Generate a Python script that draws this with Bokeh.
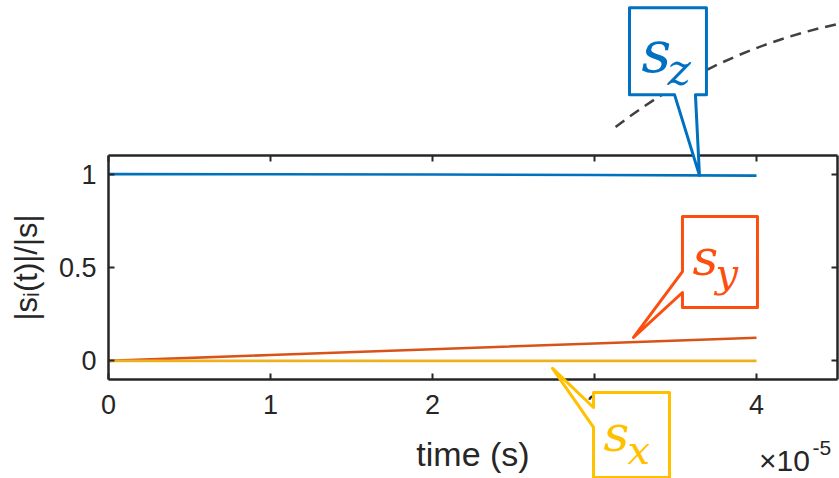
import numpy as np
from bokeh.plotting import figure
from bokeh.models import (LinearAxis, FixedTicker, Label, PolyAnnotation, Arrow,
                          ColumnDataSource, Range1d)
from bokeh.embed import file_html
from bokeh.resources import INLINE

# ---------------- data ----------------
time_s = [0.0, 1e-5, 2e-5, 3e-5, 4e-5]
s_z = [1.0, 0.9995, 0.998, 0.9957, 0.9923]
s_y = [0.0, 0.031, 0.062, 0.093, 0.124]
s_x = [0.0, 0.0, 0.0, 0.0, 0.0]

x_ticks = [0, 1, 2, 3, 4]
x_tick_labels = ["0", "1", "2", "3", "4"]
y_ticks = [0, 0.5, 1]
y_tick_labels = ["0", "0.5", "1"]
x_limits = (0, 4.5)
y_limits = (-0.1, 1.1)
x_label = "time (s)"
y_label = "|sᵢ(t)|/|s|"
exp_base = "×10"
exp_power = "-5"
x_scale = 1e5

callout_names = ["z", "y", "x"]

# ---------------- layout / styles ----------------
W, H = 839, 478
AX_L, AX_R, AX_T, AX_B = 108, 837, 155, 379      # axes box in pixels
px_x = (AX_R - AX_L) / (x_limits[1] - x_limits[0])
px_y = (AX_B - AX_T) / (y_limits[1] - y_limits[0])
xr = Range1d(x_limits[0] - AX_L / px_x, x_limits[1] + (W - AX_R) / px_x)
yr = Range1d(y_limits[0] - (H - AX_B) / px_y, y_limits[1] + AX_T / px_y)

AX = "#262626"
C_BLUE, C_ORANGE, C_YELLOW = "#0072BD", "#D95319", "#EDB120"
K_BLUE, K_ORANGE, K_YELLOW = "#0070C0", "#FC4E0F", "#FFC000"
TICK_FONT = "Liberation Sans"
MATH_FONT = "DejaVu Serif"

p = figure(width=W, height=H, x_range=xr, y_range=yr,
           output_backend="svg", toolbar_location=None,
           min_border=0, min_border_left=0, min_border_right=0,
           min_border_top=0, min_border_bottom=0)
p.background_fill_color = "white"
p.border_fill_color = "white"
p.outline_line_color = None
p.grid.visible = False
p.xaxis.visible = False
p.yaxis.visible = False

def make_axis(loc, fixed, bounds, ticks, labels):
    ax = LinearAxis(ticker=FixedTicker(ticks=ticks), fixed_location=fixed, bounds=bounds)
    ax.axis_line_color = AX
    ax.axis_line_width = 2.5
    ax.major_tick_line_color = AX
    ax.major_tick_line_width = 2
    ax.major_tick_in = 6
    ax.major_tick_out = 0
    ax.minor_tick_line_color = None
    ax.major_label_text_font = TICK_FONT
    ax.major_label_text_color = AX
    if labels is None:
        ax.major_label_text_alpha = 0
        ax.major_label_text_font_size = "1px"
    else:
        ax.major_label_overrides = {t: l for t, l in zip(ticks, labels)}
        ax.major_label_text_font_size = "27px"
    ax.axis_label_text_font = TICK_FONT
    ax.axis_label_text_font_style = "normal"
    ax.axis_label_text_color = AX
    p.add_layout(ax, loc)
    return ax

xax = make_axis("below", y_limits[0], x_limits, x_ticks, x_tick_labels)
yax = make_axis("left", x_limits[0], y_limits, y_ticks, y_tick_labels)
make_axis("above", y_limits[1], x_limits, x_ticks, None)
make_axis("right", x_limits[1], y_limits, y_ticks, None)
xax.major_label_standoff = 15
yax.major_label_standoff = 12
xax.axis_label = x_label
yax.axis_label = y_label
xax.axis_label_text_font_size = "34px"
yax.axis_label_text_font_size = "31px"
xax.axis_label_standoff = 18
yax.axis_label_standoff = 12

# ---------------- lines ----------------
tx = np.array(time_s) * x_scale
p.line(tx, s_z, line_color=C_BLUE, line_width=2.6)
p.line(tx, s_y, line_color=C_ORANGE, line_width=2.6)
p.line(tx, s_x, line_color=C_YELLOW, line_width=2.6)

# ---------------- dashed arc (decoration) ----------------
arc_cx, arc_cy, arc_r = 5.21, -1.083, 551.0   # centre (data), radius (px)
a0, a1 = np.deg2rad(127.7), np.deg2rad(97.0)
dash, gap = 11.0, 7.0
segs = dict(x0=[], y0=[], x1=[], y1=[])
s = 0.0
total = (a0 - a1) * arc_r
while s < total:
    e = min(s + dash, total)
    for key, ang in (("0", a0 - s / arc_r), ("1", a0 - e / arc_r)):
        segs["x" + key].append(arc_cx + arc_r * np.cos(ang) / px_x)
        segs["y" + key].append(arc_cy + arc_r * np.sin(ang) / px_y)
    s += dash + gap
p.add_layout(Arrow(end=None, x_start="x0", y_start="y0", x_end="x1", y_end="y1",
                   source=ColumnDataSource(segs), line_color="#404040", line_width=2.5))

# ---------------- callouts ----------------
def callout(xs, ys, color):
    p.add_layout(PolyAnnotation(xs=xs, ys=ys, fill_color="white", fill_alpha=1.0,
                                line_color=color, line_alpha=1.0, line_width=3,
                                line_join="round"))

tz = 3.648
tz_y = float(np.interp(tz, tx, s_z))
callout([3.216, 3.691, 3.691, 3.623, tz, 3.494, 3.216],
        [1.892, 1.892, 1.426, 1.426, tz_y, 1.426, 1.426], K_BLUE)

ty = 3.241
ty_y = float(np.interp(ty, tx, s_y)) + 0.025
callout([3.543, 4.006, 4.006, 3.543, 3.543, ty, 3.543],
        [0.773, 0.773, 0.2855, 0.2855, 0.366, ty_y, 0.478], K_ORANGE)

txx = 2.741
tx_y = float(np.interp(txx, tx, s_x)) - 0.04
callout([2.994, 3.463, 3.463, 2.994, 2.994, txx, 2.994],
        [-0.170, -0.170, -0.625, -0.625, -0.357, tx_y, -0.250], K_YELLOW)

def text_label(x, y, txt, size, color, font, style="normal"):
    # y is the wanted baseline; raise by the renderer's baseline offset
    p.add_layout(Label(x=x, y=y + 0.33 * size / px_y, text=txt, text_font=font,
                       text_font_style=style, text_font_size=f"{size}px",
                       text_color=color, text_align="left", text_baseline="alphabetic"))

text_label(3.29, 1.550, "s", 58, K_BLUE, MATH_FONT, "italic")
text_label(3.451, 1.485, callout_names[0], 44, K_BLUE, MATH_FONT, "italic")
text_label(3.605, 0.462, "s", 50, K_ORANGE, MATH_FONT, "italic")
text_label(3.747, 0.398, callout_names[1], 40, K_ORANGE, MATH_FONT, "italic")
text_label(3.056, -0.480, "s", 50, K_YELLOW, MATH_FONT, "italic")
text_label(3.204, -0.550, callout_names[2], 40, K_YELLOW, MATH_FONT, "italic")

# ---------------- exponent ----------------
text_label(4.015, -0.585, exp_base, 30, AX, TICK_FONT)
text_label(4.346, -0.505, exp_power, 21, AX, TICK_FONT)

open("out.html", "w").write(file_html(p, INLINE))
